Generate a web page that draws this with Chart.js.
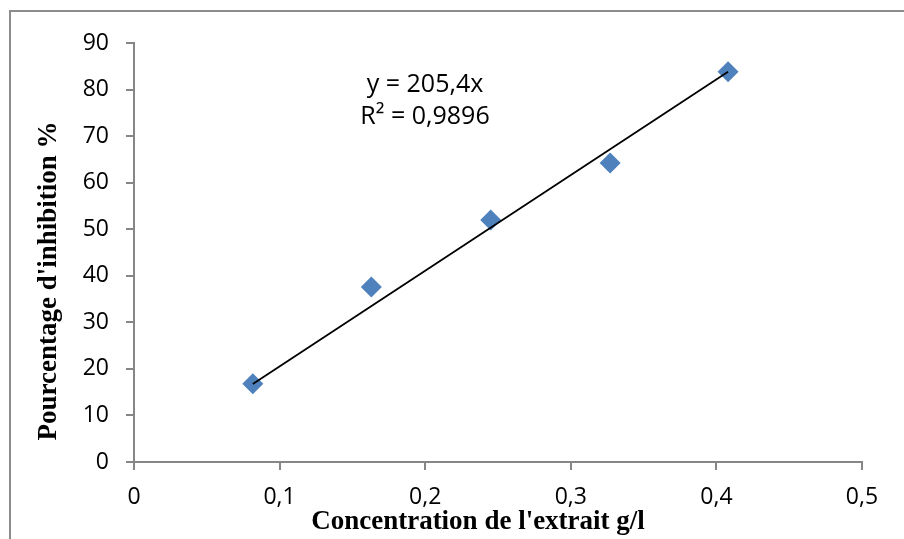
<!DOCTYPE html>
<html>
<head>
<meta charset="utf-8">
<script src="https://cdn.jsdelivr.net/npm/chart.js@4"></script>
<style>
  body { margin: 0; background: #fff; }
  #wrap { position: relative; width: 904px; height: 539px; overflow: hidden; }
  #frame { position: absolute; left: 9px; top: 10px; width: 1000px; height: 600px;
           border-left: 2px solid #8c8c8c; border-top: 2px solid #8c8c8c; }
  #chart { position: absolute; left: 0; top: 0; }
</style>
</head>
<body>
<div id="wrap">
  <div id="frame"></div>
  <canvas id="chart" width="904" height="539"></canvas>
</div>
<script>
// concentrations (g/l) et pourcentages d'inhibition
const concentrations = [0.0816, 0.163, 0.245, 0.327, 0.408];
const inhibition = [16.8, 37.6, 52.0, 64.2, 83.8];
const xTicks = [0, 0.1, 0.2, 0.3, 0.4, 0.5];
const yTicks = [0, 10, 20, 30, 40, 50, 60, 70, 80, 90];

// courbe de tendance linéaire passant par l'origine
const slope = 205.4;
const r2 = '0,9896';
const xMin = Math.min(...concentrations);
const xMax = Math.max(...concentrations);
const trend = [{ x: xMin, y: slope * xMin }, { x: xMax, y: slope * xMax }];

const points = concentrations.map((c, i) => ({ x: c, y: inhibition[i] }));
const axisColor = '#868686';
const tickFont = { family: 'Open Sans', size: 23 };

const textPlugin = {
  id: 'textes',
  afterDraw(chart) {
    const ctx = chart.ctx;
    ctx.save();
    ctx.fillStyle = '#000';
    ctx.textAlign = 'center';
    ctx.textBaseline = 'middle';
    ctx.font = 'bold 27px "Liberation Serif"';
    ctx.fillText("Concentration de l'extrait g/l", 478, 522);
    ctx.save();
    ctx.translate(49, 281);
    ctx.rotate(-Math.PI / 2);
    ctx.fillText("Pourcentage d'inhibition %", 0, 0);
    ctx.restore();
    ctx.font = '25px "Open Sans"';
    ctx.fillText('y = ' + String(slope).replace('.', ',') + 'x', 425, 85);
    ctx.fillText('R² = ' + r2, 425, 117);
    ctx.restore();
  }
};

new Chart(document.getElementById('chart'), {
  type: 'scatter',
  data: {
    datasets: [
      {
        data: trend,
        showLine: true,
        borderColor: '#000',
        borderWidth: 1.8,
        pointRadius: 0
      },
      {
        data: points,
        pointStyle: 'rectRot',
        pointRadius: 10.5,
        pointHoverRadius: 10.5,
        backgroundColor: '#4F81BD',
        borderColor: '#4F81BD',
        borderWidth: 0
      }
    ]
  },
  options: {
    responsive: false,
    animation: false,
    layout: { padding: { left: 0, top: 43, right: 42, bottom: 0 } },
    plugins: { legend: { display: false }, tooltip: { enabled: false } },
    scales: {
      x: {
        type: 'linear',
        min: 0,
        max: 0.5,
        afterFit(scale) { scale.height = 77; },
        afterBuildTicks(scale) { scale.ticks = xTicks.map(v => ({ value: v })); },
        grid: { drawOnChartArea: false, color: axisColor, lineWidth: 2, tickLength: 8 },
        border: { color: axisColor, width: 2 },
        ticks: {
          color: '#000',
          font: tickFont,
          padding: 14,
          maxRotation: 0,
          callback: v => String(Math.round(v * 10) / 10).replace('.', ',')
        }
      },
      y: {
        min: 0,
        max: 90,
        afterFit(scale) { scale.width = 134; },
        afterBuildTicks(scale) { scale.ticks = yTicks.map(v => ({ value: v })); },
        grid: { drawOnChartArea: false, color: axisColor, lineWidth: 2, tickLength: 8 },
        border: { color: axisColor, width: 2 },
        ticks: { color: '#000', font: tickFont, padding: 17 }
      }
    }
  },
  plugins: [textPlugin]
});
</script>
</body>
</html>
